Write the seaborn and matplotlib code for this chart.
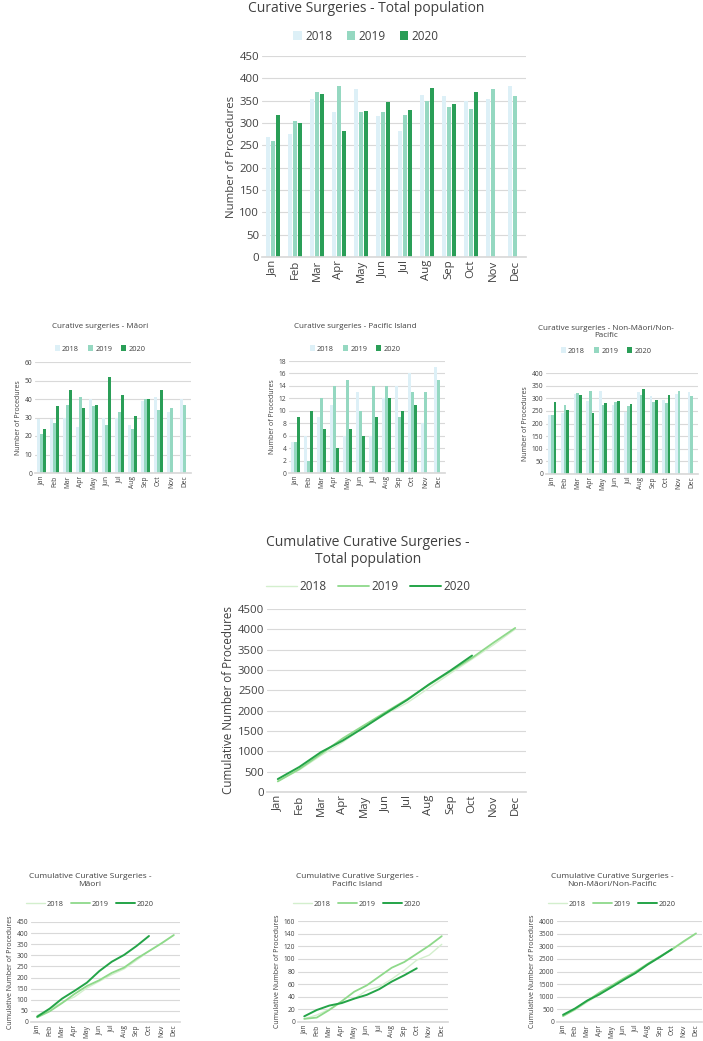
import matplotlib
import matplotlib.pyplot as plt
import numpy as np
import pandas as pd
import seaborn as sns
from matplotlib.lines import Line2D
from matplotlib.patches import Patch

matplotlib.use("Agg")

W, H = 703, 1041

MONTHS = ["Jan", "Feb", "Mar", "Apr", "May", "Jun", "Jul", "Aug", "Sep", "Oct", "Nov", "Dec"]
YEARS = ["2018", "2019", "2020"]

# monthly curative surgeries (2020 only up to Oct)
total_2018 = [268, 276, 353, 325, 376, 315, 281, 363, 360, 350, 354, 383]
total_2019 = [260, 304, 370, 382, 325, 324, 318, 350, 335, 331, 375, 360]
total_2020 = [318, 299, 364, 281, 327, 347, 330, 378, 342, 369]

maori_2018 = [29, 29, 30, 25, 40, 30, 30, 26, 39, 41, 33, 40]
maori_2019 = [21, 27, 37, 41, 36, 26, 33, 24, 40, 34, 35, 37]
maori_2020 = [24, 36, 45, 35, 37, 52, 42, 31, 40, 45]

pacific_2018 = [5, 6, 9, 11, 6, 13, 6, 12, 14, 16, 8, 17]
pacific_2019 = [5, 2, 12, 14, 15, 10, 14, 14, 9, 13, 13, 15]
pacific_2020 = [9, 10, 7, 4, 7, 6, 9, 12, 10, 11]

other_2018 = [235, 240, 315, 290, 330, 275, 245, 325, 308, 295, 315, 325]
other_2019 = [235, 275, 322, 327, 275, 287, 271, 311, 287, 283, 328, 307]
other_2020 = [285, 253, 311, 242, 283, 289, 278, 335, 292, 313]

BAR_COLORS = ["#ddf0f7", "#95d8c1", "#2a9e57"]
LINE_COLORS = ["#d3efcd", "#8ed98a", "#24a448"]
LINE_WIDTHS = [1.0, 1.3, 1.4]
GRID = "#d9d9d9"
TEXT = "#404040"


def long_frame(series):
    rows = []
    for year, values in zip(YEARS, series):
        for i, v in enumerate(values):
            rows.append({"month": MONTHS[i], "pos": i, "year": year, "value": v})
    return pd.DataFrame(rows)


def px_axes(fig, left, top, right, bottom):
    return fig.add_axes([left / W, 1 - bottom / H, (right - left) / W, (bottom - top) / H])


def style_axes(ax, ymax, step, fs, lfs, ylabel):
    ax.set_ylim(0, ymax)
    ax.set_yticks(np.arange(0, ymax + step / 2, step))
    ax.set_xlim(-0.5, 11.5)
    ax.set_xticks(range(12))
    ax.set_xticklabels(MONTHS, rotation=90)
    ax.tick_params(length=0, labelsize=fs, colors=TEXT, pad=2)
    ax.grid(axis="y", color=GRID, linewidth=0.8)
    ax.grid(axis="x", visible=False)
    ax.set_axisbelow(True)
    for s in ["top", "right", "left"]:
        ax.spines[s].set_visible(False)
    ax.spines["bottom"].set_color(GRID)
    ax.set_xlabel("")
    ax.set_ylabel(ylabel, fontsize=lfs, color=TEXT, labelpad=2)
    ax.set_facecolor("white")


def bar_chart(fig, rect, series, title, title_y, legend_y, cx, ymax, step, fs, tfs, lfs, gfs):
    ax = px_axes(fig, *rect)
    df = long_frame(series)
    sns.barplot(data=df, x="month", y="value", hue="year", order=MONTHS,
                hue_order=YEARS, palette=BAR_COLORS, width=0.64, gap=0.08,
                saturation=1, legend=False, linewidth=0, edgecolor="none", ax=ax)
    style_axes(ax, ymax, step, fs, lfs, "Number of Procedures")
    fig.text(cx / W, 1 - title_y / H, title, ha="center", va="center",
             fontsize=tfs, color=TEXT, linespacing=1.1)
    handles = [Patch(facecolor=c, edgecolor="none") for c in BAR_COLORS]
    fig.legend(handles, YEARS, loc="center", bbox_to_anchor=(cx / W, 1 - legend_y / H),
               ncol=3, frameon=False, fontsize=gfs, handlelength=0.7, handleheight=0.7,
               handletextpad=0.3, columnspacing=1.2, labelcolor=TEXT)
    return ax


def line_chart(fig, rect, series, title, title_y, legend_y, cx, ymax, step, fs, tfs, lfs, gfs):
    ax = px_axes(fig, *rect)
    cum = [np.cumsum(s) for s in series]
    df = long_frame(cum)
    for year, color, lw in zip(YEARS, LINE_COLORS, LINE_WIDTHS):
        sns.lineplot(data=df[df["year"] == year], x="pos", y="value", color=color,
                     linewidth=lw, ax=ax, legend=False)
    style_axes(ax, ymax, step, fs, lfs, "Cumulative Number of Procedures")
    fig.text(cx / W, 1 - title_y / H, title, ha="center", va="center",
             fontsize=tfs, color=TEXT, linespacing=1.2)
    handles = [Line2D([], [], color=c, linewidth=lw) for c, lw in zip(LINE_COLORS, LINE_WIDTHS)]
    fig.legend(handles, YEARS, loc="center", bbox_to_anchor=(cx / W, 1 - legend_y / H),
               ncol=3, frameon=False, fontsize=gfs, handlelength=2.6,
               handletextpad=0.2, columnspacing=1.0, labelcolor=TEXT)
    return ax


sns.set_theme(style="white")
plt.rcParams["font.family"] = ["Open Sans", "DejaVu Sans"]

fig = plt.figure(figsize=(W / 100, H / 100), dpi=100)
fig.patch.set_facecolor("white")

# bar charts
bar_chart(fig, (262, 56, 526, 257), [total_2018, total_2019, total_2020],
          "Curative Surgeries - Total population", 9, 36, 366, 450, 50,
          8.2, 10, 8.2, 8.5)
bar_chart(fig, (35, 362, 191, 473), [maori_2018, maori_2019, maori_2020],
          "Curative surgeries - Māori", 326, 349, 100, 60, 10, 4.8, 5.8, 5, 5.3)
bar_chart(fig, (289, 361, 445, 473), [pacific_2018, pacific_2019, pacific_2020],
          "Curative surgeries - Pacific Island", 326, 349, 355, 18, 2, 4.8, 5.8, 5, 5.3)
bar_chart(fig, (546, 373, 698, 474), [other_2018, other_2019, other_2020],
          "Curative surgeries - Non-Māori/Non-\nPacific", 332, 351, 606, 400, 50,
          4.8, 5.8, 5, 5.3)

# cumulative line charts
line_chart(fig, (267, 609, 526, 792), [total_2018, total_2019, total_2020],
           "Cumulative Curative Surgeries -\nTotal population", 551, 587, 368, 4500, 500,
           8.2, 10, 8.4, 8.5)
line_chart(fig, (31, 922, 180, 1022), [maori_2018, maori_2019, maori_2020],
           "Cumulative Curative Surgeries -\nMāori", 880, 904, 90, 450, 50, 4.8, 6, 5, 5.3)
line_chart(fig, (298, 921, 448, 1022), [pacific_2018, pacific_2019, pacific_2020],
           "Cumulative Curative Surgeries -\nPacific Island", 880, 904, 357, 160, 20,
           4.8, 6, 5, 5.3)
line_chart(fig, (557, 921, 702, 1022), [other_2018, other_2019, other_2020],
           "Cumulative Curative Surgeries -\nNon-Māori/Non-Pacific", 880, 904, 612, 4000, 500,
           4.8, 6, 5, 5.3)

fig.savefig("out.png", dpi=100, facecolor="white")
